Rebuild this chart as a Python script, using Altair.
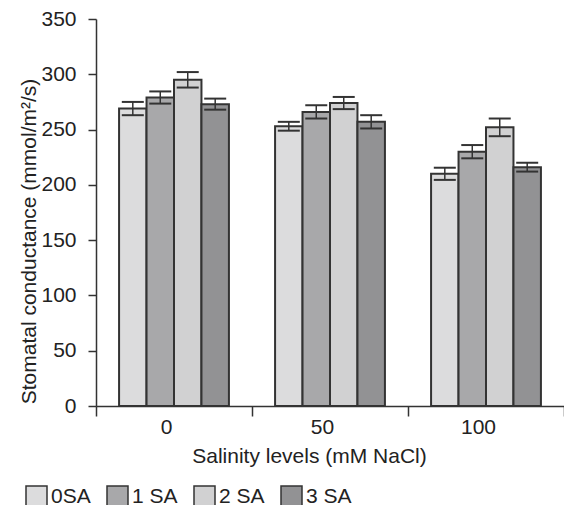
import altair as alt
import pandas as pd

groups = ["0", "50", "100"]
treatments = ["0SA", "1 SA", "2 SA", "3 SA"]
means_0sa = [269, 253, 210]
means_1sa = [279, 266, 230]
means_2sa = [295, 274, 252]
means_3sa = [273, 257, 216]
err_0sa = [6, 4, 5.5]
err_1sa = [5.5, 6, 6]
err_2sa = [7, 5.5, 8]
err_3sa = [5, 6, 4]
colors = ["#dcdcdd", "#a8a8aa", "#d1d1d2", "#929294"]

means = [means_0sa, means_1sa, means_2sa, means_3sa]
errs = [err_0sa, err_1sa, err_2sa, err_3sa]
rows = []
for t, m, e in zip(treatments, means, errs):
    for g, mv, ev in zip(groups, m, e):
        rows.append({"group": g, "treat": t, "mean": mv, "lo": mv - ev, "hi": mv + ev})
df = pd.DataFrame(rows)

FONT = "Liberation Sans"
DARK = "#333333"
YTITLE = "Stomatal conductance (mmol/m²/s)"

x = alt.X(
    "group:N",
    sort=groups,
    scale=alt.Scale(paddingInner=0, paddingOuter=0),
    axis=alt.Axis(
        title="Salinity levels (mM NaCl)",
        labelAngle=0,
        labelOffset=-8,
        tickBand="extent",
        tickSize=10,
        labelPadding=0,
        titleX=213,
        titleY=39,
        titleBaseline="top",
    ),
)
xo = alt.XOffset("treat:N", sort=treatments, scale=alt.Scale(paddingInner=0, paddingOuter=0.84))
yscale = alt.Scale(domain=[0, 350], nice=False)
yaxis = alt.Axis(
    values=list(range(0, 351, 50)),
    title=YTITLE,
    grid=False,
    tickSize=8,
    labelPadding=12,
    titleAngle=-90,
    titleX=-67,
    titleY=222,
    titleBaseline="middle",
)

bars = alt.Chart(df).mark_bar(stroke=DARK, strokeWidth=2).encode(
    x=x,
    xOffset=xo,
    y=alt.Y("mean:Q", scale=yscale, axis=yaxis, title=YTITLE),
    color=alt.Color(
        "treat:N",
        sort=treatments,
        scale=alt.Scale(domain=treatments, range=colors),
        legend=alt.Legend(
            orient="none",
            legendX=-71,
            legendY=466,
            direction="horizontal",
            title=None,
            symbolType="square",
            symbolSize=441,
            symbolStrokeColor=DARK,
            symbolStrokeWidth=1.5,
            symbolOpacity=1,
            labelFontSize=21,
            labelFont=FONT,
            labelColor="#222222",
            labelOffset=3,
            columnPadding=13,
            padding=0,
        ),
    ),
)

rule = alt.Chart(df).mark_rule(color=DARK, strokeWidth=1.5).encode(
    x=x, xOffset=xo,
    y=alt.Y("lo:Q", scale=yscale, axis=yaxis, title=YTITLE),
    y2="hi:Q",
)
cap_hi = alt.Chart(df).mark_tick(color=DARK, thickness=2, size=22, opacity=1).encode(
    x=x, xOffset=xo, y=alt.Y("hi:Q", scale=yscale, axis=yaxis, title=YTITLE)
)
cap_lo = alt.Chart(df).mark_tick(color=DARK, thickness=2, size=22, opacity=1).encode(
    x=x, xOffset=xo, y=alt.Y("lo:Q", scale=yscale, axis=yaxis, title=YTITLE)
)

chart = alt.layer(bars, rule, cap_hi, cap_lo).properties(
    width=468,
    height=387,
    autosize=alt.AutoSizeParams(type="none"),
    padding={"left": 88, "top": 11, "right": 0, "bottom": 99},
).configure_view(stroke=None).configure_axis(
    domainColor=DARK,
    tickColor=DARK,
    domainWidth=1.5,
    tickWidth=1.5,
    labelFont=FONT,
    labelFontSize=21,
    labelColor="#222222",
    titleFont=FONT,
    titleFontSize=21,
    titleFontWeight="normal",
    titleColor="#222222",
)

chart.save("out.html", embed_options={"renderer": "svg", "actions": False})
